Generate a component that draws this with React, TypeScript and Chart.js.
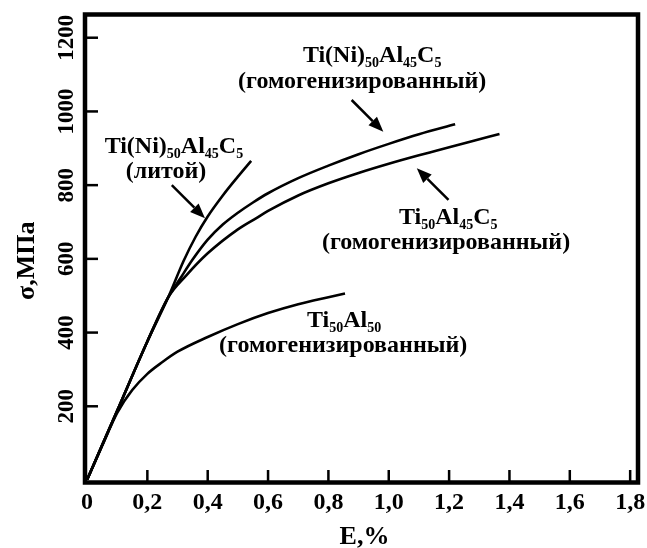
import React, { useEffect, useRef } from "react";
import { Chart, registerables } from "chart.js";

Chart.register(...registerables);

// ---- Data (E, % ; σ, MPa) ----
const tiAlX = [0, 0.05, 0.1, 0.15, 0.2, 0.25, 0.3, 0.4, 0.5, 0.6, 0.7, 0.8, 0.855];
const tiAlY = [0, 92, 182, 244, 288, 320, 348, 388, 423, 453, 477, 496, 506];

const castX = [0, 0.1, 0.2, 0.27, 0.32, 0.36, 0.4, 0.45, 0.5, 0.544];
const castY = [0, 188, 376, 497, 594, 660, 715, 772, 823, 866];

const niHomX = [0, 0.1, 0.2, 0.27, 0.31, 0.35, 0.4, 0.45, 0.5, 0.55, 0.6, 0.7, 0.8, 0.9, 1.0, 1.1, 1.22];
const niHomY = [0, 188, 376, 497, 548, 598, 652, 693, 725, 753, 778, 819, 853, 884, 912, 938, 965];

const cHomX = [0, 0.1, 0.2, 0.27, 0.33, 0.4, 0.5, 0.56, 0.6, 0.7, 0.8, 0.9, 1.0, 1.1, 1.16, 1.26, 1.367];
const cHomY = [0, 188, 376, 497, 556, 615, 680, 710, 730, 772, 805, 833, 858, 881, 894, 916, 939];

const xTickValues = [0.2, 0.4, 0.6, 0.8, 1.0, 1.2, 1.4, 1.6, 1.8];
const xTickLabels = ["0", "0,2", "0,4", "0,6", "0,8", "1,0", "1,2", "1,4", "1,6", "1,8"];
const xLabelValues = [0, 0.2, 0.4, 0.6, 0.8, 1.0, 1.2, 1.4, 1.6, 1.8];
const yTickValues = [200, 400, 600, 800, 1000, 1200];
const yTickLabels = ["200", "400", "600", "800", "1000", "1200"];

const xTitle = "E,%";
const yTitle = "σ,МПа";

type Seg = [string, boolean];
const labelCast: Seg[][] = [
  [["Ti(Ni)", false], ["50", true], ["Al", false], ["45", true], ["C", false], ["5", true]],
  [["(литой)", false]],
];
const labelNiHom: Seg[][] = [
  [["Ti(Ni)", false], ["50", true], ["Al", false], ["45", true], ["C", false], ["5", true]],
  [["(гомогенизированный)", false]],
];
const labelCHom: Seg[][] = [
  [["Ti", false], ["50", true], ["Al", false], ["45", true], ["C", false], ["5", true]],
  [["(гомогенизированный)", false]],
];
const labelTiAl: Seg[][] = [
  [["Ti", false], ["50", true], ["Al", false], ["50", true]],
  [["(гомогенизированный)", false]],
];

// annotation anchors in data coords: [x-center, baseline y] per line
const annotations = [
  { lines: labelCast, pos: [[0.288, 888], [0.262, 820]] },
  { lines: labelNiHom, pos: [[0.945, 1134], [0.912, 1063]] },
  { lines: labelCHom, pos: [[1.197, 694], [1.19, 627]] },
  { lines: labelTiAl, pos: [[0.852, 415], [0.849, 346]] },
];
// arrows: [fromX, fromY, tipX, tipY] in data coords
const arrows = [
  [0.281, 800, 0.391, 710],
  [0.877, 1031, 0.982, 945],
  [1.198, 760, 1.093, 846],
];

const FONT = '"Liberation Serif", "Times New Roman", serif';

function zip(xs: number[], ys: number[]) {
  return xs.map((x, i) => ({ x, y: ys[i] }));
}

function drawRich(ctx: CanvasRenderingContext2D, segs: Seg[], cx: number, base: number, size: number) {
  const main = `bold ${size}px ${FONT}`;
  const sub = `bold ${Math.round(size * 0.6)}px ${FONT}`;
  let total = 0;
  for (const [t, s] of segs) {
    ctx.font = s ? sub : main;
    total += ctx.measureText(t).width;
  }
  let x = cx - total / 2;
  ctx.textAlign = "left";
  ctx.textBaseline = "alphabetic";
  for (const [t, s] of segs) {
    ctx.font = s ? sub : main;
    ctx.fillText(t, x, s ? base + size * 0.22 : base);
    x += ctx.measureText(t).width;
  }
}

function drawArrow(ctx: CanvasRenderingContext2D, x1: number, y1: number, x2: number, y2: number) {
  const ang = Math.atan2(y2 - y1, x2 - x1);
  const hl = 15, hw = 6;
  const bx = x2 - hl * Math.cos(ang), by = y2 - hl * Math.sin(ang);
  ctx.lineWidth = 2.5;
  ctx.beginPath();
  ctx.moveTo(x1, y1);
  ctx.lineTo(bx, by);
  ctx.stroke();
  ctx.beginPath();
  ctx.moveTo(x2, y2);
  ctx.lineTo(bx + hw * Math.sin(ang), by - hw * Math.cos(ang));
  ctx.lineTo(bx - hw * Math.sin(ang), by + hw * Math.cos(ang));
  ctx.closePath();
  ctx.fill();
}

const decorPlugin = {
  id: "decor",
  afterDraw(chart: any) {
    const ctx: CanvasRenderingContext2D = chart.ctx;
    const xs = chart.scales.x, ys = chart.scales.y;
    const ca = chart.chartArea;
    ctx.save();
    ctx.fillStyle = "#000";
    ctx.strokeStyle = "#000";
    // frame
    ctx.lineWidth = 4.5;
    ctx.strokeRect(ca.left - 2, ca.top, ca.right - ca.left + 2, ca.bottom - ca.top + 2.5);
    // ticks
    ctx.lineWidth = 2.5;
    const tl = 12;
    for (const v of xTickValues) {
      const px = xs.getPixelForValue(v);
      ctx.beginPath();
      ctx.moveTo(px, ca.bottom + 2);
      ctx.lineTo(px, ca.bottom + 2 - tl);
      ctx.stroke();
    }
    for (const v of yTickValues) {
      const py = ys.getPixelForValue(v);
      ctx.beginPath();
      ctx.moveTo(ca.left - 2, py);
      ctx.lineTo(ca.left - 2 + tl + 1, py);
      ctx.stroke();
    }
    // tick labels
    ctx.font = `bold 24px ${FONT}`;
    ctx.textAlign = "center";
    ctx.textBaseline = "alphabetic";
    xLabelValues.forEach((v, i) => {
      const px = xs.getPixelForValue(v);
      ctx.fillText(xTickLabels[i], px, ca.bottom + 29);
    });
    ctx.font = `bold 23px ${FONT}`;
    yTickValues.forEach((v, i) => {
      const py = ys.getPixelForValue(v);
      ctx.save();
      ctx.translate(ca.left - 14, py);
      ctx.rotate(-Math.PI / 2);
      ctx.fillText(yTickLabels[i], 0, 0);
      ctx.restore();
    });
    // titles
    ctx.font = `bold 26px ${FONT}`;
    ctx.fillText(xTitle, (ca.left + ca.right) / 2 + 2, ca.bottom + 64);
    ctx.save();
    ctx.translate(ca.left - 53, ys.getPixelForValue(595));
    ctx.rotate(-Math.PI / 2);
    ctx.fillText(yTitle, 0, 0);
    ctx.restore();
    // annotations
    for (const a of annotations) {
      a.lines.forEach((segs, i) => {
        const [dx, dy] = a.pos[i];
        drawRich(ctx, segs, xs.getPixelForValue(dx), ys.getPixelForValue(dy), 24);
      });
    }
    for (const [fx, fy, tx, ty] of arrows) {
      drawArrow(ctx, xs.getPixelForValue(fx), ys.getPixelForValue(fy), xs.getPixelForValue(tx), ys.getPixelForValue(ty));
    }
    ctx.restore();
  },
};

export default function App() {
  const ref = useRef<HTMLCanvasElement | null>(null);
  useEffect(() => {
    if (!ref.current) return;
    const ds = (data: { x: number; y: number }[]) => ({
      data,
      borderColor: "#000",
      borderWidth: 2.6,
      pointRadius: 0,
      fill: false,
      cubicInterpolationMode: "monotone" as const,
    });
    const chart = new Chart(ref.current, {
      type: "line",
      data: {
        datasets: [
          ds(zip(tiAlX, tiAlY)),
          ds(zip(castX, castY)),
          ds(zip(niHomX, niHomY)),
          ds(zip(cHomX, cHomY)),
        ],
      },
      options: {
        responsive: false,
        animation: false,
        devicePixelRatio: 1,
        layout: { padding: { left: 87, right: 9, top: 14.5, bottom: 68 } },
        plugins: { legend: { display: false }, tooltip: { enabled: false } },
        scales: {
          x: { type: "linear", min: 0, max: 1.826, display: false },
          y: { type: "linear", min: 0, max: 1263, display: false },
        },
      },
      plugins: [decorPlugin],
    });
    return () => chart.destroy();
  }, []);
  return (
    <div style={{ position: "absolute", left: 0, top: 0, width: 647, height: 548, background: "#fff" }}>
      <canvas ref={ref} width={647} height={548} style={{ display: "block" }} />
    </div>
  );
}
